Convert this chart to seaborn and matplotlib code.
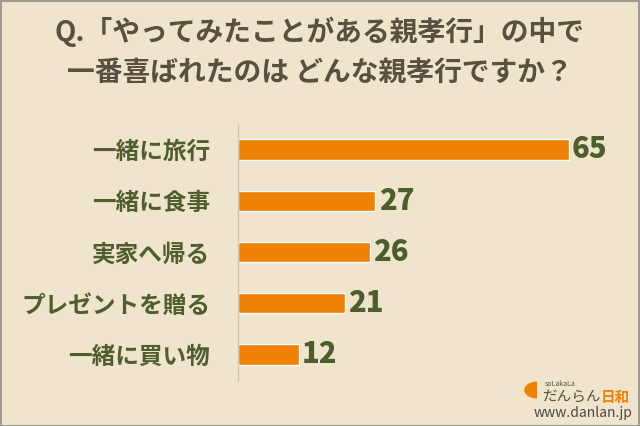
import matplotlib
matplotlib.use("Agg")
import matplotlib.pyplot as plt
import seaborn as sns
import pandas as pd
import numpy as np
from matplotlib.patches import Rectangle, Wedge

categories = ["一緒に旅行", "一緒に食事", "実家へ帰る", "プレゼントを贈る", "一緒に買い物"]
values = [65, 27, 26, 21, 12]
title_lines = ["Q.「やってみたことがある親孝行」の中で", "一番喜ばれたのは どんな親孝行ですか？"]

BG = "#F0E4CC"
BAR = "#EE8106"
TXT = "#5A5040"
LBL = "#4F5E2E"
VAL = "#4B5E2C"

sns.set_theme(style="white")
plt.rcParams['font.family'] = ['Noto Sans CJK JP', 'DejaVu Sans']

df = pd.DataFrame({"cat": categories, "val": values})

fig = plt.figure(figsize=(6.4, 4.26), dpi=100, facecolor=BG)
ax = fig.add_axes([238/640, 1-380/426, (620-238)/640, (380-124)/426])
ax.set_facecolor(BG)
sns.barplot(data=df, x="val", y="cat", orient="h", color=BAR, width=0.4, ax=ax, saturation=1)

ax.set_xlim(0, 65*(620-238)/(569-238))
ax.set_ylim(4.5, -0.5)
ax.set_xlabel("")
ax.set_ylabel("")
ax.set_xticks([])
for s in ["top", "right", "bottom"]:
    ax.spines[s].set_visible(False)
ax.spines["left"].set_color("#CFC6B4")
ax.spines["left"].set_linewidth(1)

ax.set_yticks(range(len(categories)))
ax.set_yticklabels(categories, fontsize=17, fontweight="bold", color=LBL)
ax.tick_params(axis="y", which="major", length=0, pad=20)
ax.set_yticks(np.arange(-0.5, len(categories), 1), minor=True)
ax.tick_params(axis="y", which="minor", direction="in", length=8, color="#CFC6B4", width=1)

for i, v in enumerate(values):
    ax.text(v + 0.6, i, str(v), va="center", ha="left", fontsize=21, fontweight="heavy", color=VAL)

fig.text(0.5, 1-32/426, title_lines[0], ha="center", va="center", fontsize=20, fontweight="bold", color=TXT)
fig.text(0.5, 1-73/426, title_lines[1], ha="center", va="center", fontsize=20, fontweight="bold", color=TXT)

# logo
fig.patches.append(Wedge((537/640, 1-390/426), 8.5/426, 90, 270, transform=fig.transFigure,
                         facecolor=BAR, edgecolor="none"))
fig.text(545/640, 1-384/426, "soLakaLa", fontsize=5, color=TXT, ha="left", va="center")
fig.text(543/640, 1-397/426, "だんらん", fontsize=10.5, color=TXT, ha="left", va="center")
fig.text(601/640, 1-397/426, "日和", fontsize=10.5, color=BAR, ha="left", va="center", fontweight="bold")
fig.text(632/640, 1-413/426, "www.danlan.jp", fontsize=10, color="#4A4A4A", ha="right", va="center")

fig.patches.append(Rectangle((0.001, 0.001), 0.998, 0.997, transform=fig.transFigure,
                             facecolor="none", edgecolor="#9E9A94", linewidth=1.5))

fig.savefig("out.png", dpi=100, facecolor=BG)
